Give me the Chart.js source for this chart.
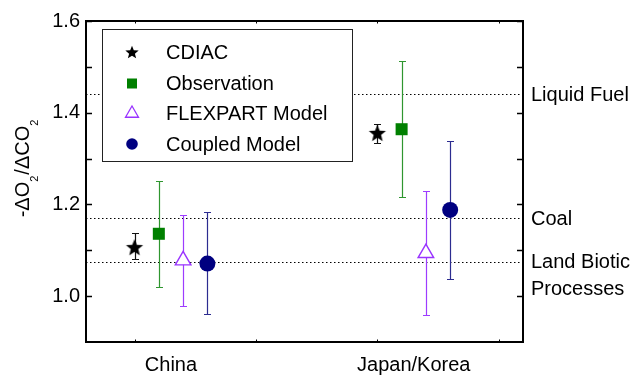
<!DOCTYPE html>
<html><head><meta charset="utf-8">
<script src="https://cdn.jsdelivr.net/npm/chart.js@4"></script>
<style>html,body{margin:0;padding:0;background:#fff}</style>
</head><body>
<canvas id="c" width="640" height="376" style="width:640px;height:376px;display:block"></canvas>
<script>
// ---------- data ----------
const categories = ['China', 'Japan/Korea'];
const seriesNames = ['CDIAC', 'Observation', 'FLEXPART Model', 'Coupled Model'];

const cdiacValues = [1.107, 1.356];
const cdiacLow    = [1.080, 1.335];
const cdiacHigh   = [1.138, 1.375];

const obsValues = [1.136, 1.364];
const obsLow    = [1.021, 1.217];
const obsHigh   = [1.251, 1.512];

const flexValues = [1.078, 1.094];
const flexLow    = [0.979, 0.958];
const flexHigh   = [1.176, 1.229];

const coupledValues = [1.071, 1.188];
const coupledLow    = [0.960, 1.037];
const coupledHigh   = [1.183, 1.338];

const refValues = [1.44, 1.17, 1.075];
const refLabels = [['Liquid Fuel'], ['Coal'], ['Land Biotic', 'Processes']];

const yMajorTicks = [1.0, 1.2, 1.4, 1.6];
const yMinorTicks = [1.1, 1.3, 1.5];
const yTickLabels = ['1.0', '1.2', '1.4', '1.6'];
const xFrameTicks = [2, 7, 12, 17];

// ---------- styling / layout ----------
const FONT = "'Liberation Sans', Arial, Helvetica, sans-serif";
const catCenters = [3.5, 13.5];
const offsets = [-1.5, -0.5, 0.5, 1.5];

function makeStar(outer, color) {
  const s = Math.ceil(outer * 2 + 2);
  const cv = document.createElement('canvas');
  cv.width = s; cv.height = s;
  const g = cv.getContext('2d');
  const inner = outer * 0.44;
  g.beginPath();
  for (let i = 0; i < 10; i++) {
    const r = i % 2 === 0 ? outer : inner;
    const a = -Math.PI / 2 + i * Math.PI / 5;
    const px = s / 2 + r * Math.cos(a), py = s / 2 + r * Math.sin(a) + outer * 0.1;
    if (i === 0) g.moveTo(px, py); else g.lineTo(px, py);
  }
  g.closePath();
  g.fillStyle = color; g.fill();
  return cv;
}
const starBig = makeStar(9, '#000');
const starSmall = makeStar(7, '#000');

const seriesDefs = [
  { vals: cdiacValues, low: cdiacLow, high: cdiacHigh, style: starBig, fill: '#000', border: '#000', err: '#111', r: 9, bw: 0 },
  { vals: obsValues, low: obsLow, high: obsHigh, style: 'rect', fill: '#008000', border: '#008000', err: '#2f962f', r: 8.5, bw: 0 },
  { vals: flexValues, low: flexLow, high: flexHigh, style: 'triangle', fill: '#ffffff', border: '#9933ff', err: '#9d3cff', r: 9, bw: 1.4 },
  { vals: coupledValues, low: coupledLow, high: coupledHigh, style: 'circle', fill: '#000080', border: '#000080', err: '#2c2c90', r: 8, bw: 0 }
];

const datasets = seriesDefs.map((s, si) => ({
  label: seriesNames[si],
  data: s.vals.map((v, i) => ({ x: catCenters[i] + offsets[si], y: v })),
  pointStyle: s.style,
  pointRadius: s.r,
  pointHoverRadius: s.r,
  pointBackgroundColor: s.fill,
  pointBorderColor: s.border,
  pointBorderWidth: s.bw,
  showLine: false
}));

const decor = {
  id: 'decor',
  beforeDatasetsDraw(chart) {
    const { ctx, chartArea: a, scales: { x, y } } = chart;
    ctx.save();
    ctx.strokeStyle = '#000';
    ctx.lineWidth = 1;
    ctx.setLineDash([1.5, 2.5]);
    refValues.forEach(v => {
      const py = Math.round(y.getPixelForValue(v)) + 0.5;
      ctx.beginPath(); ctx.moveTo(a.left, py); ctx.lineTo(a.right, py); ctx.stroke();
    });
    ctx.setLineDash([]);
    seriesDefs.forEach((s, si) => {
      ctx.strokeStyle = s.err;
      ctx.lineWidth = 1.2;
      chart.data.datasets[si].data.forEach((p, i) => {
        const px = Math.round(x.getPixelForValue(p.x)) + 0.5;
        const y1 = Math.round(y.getPixelForValue(s.low[i])) + 0.5;
        const y2 = Math.round(y.getPixelForValue(s.high[i])) + 0.5;
        ctx.beginPath();
        ctx.moveTo(px, y1); ctx.lineTo(px, y2);
        ctx.moveTo(px - 3.5, y1); ctx.lineTo(px + 3.5, y1);
        ctx.moveTo(px - 3.5, y2); ctx.lineTo(px + 3.5, y2);
        ctx.stroke();
      });
    });
    ctx.restore();
  },
  afterDraw(chart) {
    const { ctx, chartArea: a, scales: { x, y } } = chart;
    ctx.save();
    ctx.strokeStyle = '#000';
    ctx.lineWidth = 1.5;
    [...yMajorTicks, ...yMinorTicks].forEach(v => {
      const py = Math.round(y.getPixelForValue(v)) + 0.5;
      ctx.beginPath();
      ctx.moveTo(a.left, py); ctx.lineTo(a.left + 6, py);
      ctx.moveTo(a.right, py); ctx.lineTo(a.right - 6, py);
      ctx.stroke();
    });
    ctx.lineWidth = 1;
    xFrameTicks.forEach(v => {
      const px = Math.round(x.getPixelForValue(v)) + 0.5;
      ctx.beginPath();
      ctx.moveTo(px, a.bottom); ctx.lineTo(px, a.bottom - 2.5);
      ctx.moveTo(px, a.top); ctx.lineTo(px, a.top + 2.5);
      ctx.stroke();
    });

    // legend box
    const L = { x: 102, y: 29, w: 250, h: 132 };
    ctx.fillStyle = '#fff';
    ctx.fillRect(L.x, L.y, L.w, L.h);
    ctx.strokeStyle = '#222';
    ctx.lineWidth = 1;
    ctx.strokeRect(L.x + 0.5, L.y + 0.5, L.w, L.h);
    const rowY = [52, 83.5, 113.5, 144];
    ctx.font = '20px ' + FONT;
    ctx.textBaseline = 'middle';
    ctx.textAlign = 'left';
    chart.data.datasets.forEach((ds, si) => {
      const s = seriesDefs[si];
      const cx = 132, cy = rowY[si];
      ctx.fillStyle = s.fill; ctx.strokeStyle = s.border;
      if (si === 0) {
        ctx.drawImage(starSmall, cx - starSmall.width / 2, cy - starSmall.height / 2);
      } else if (s.style === 'rect') {
        ctx.fillRect(cx - 5, cy - 5, 10, 10);
      } else if (s.style === 'triangle') {
        const r = 7.5;
        ctx.beginPath();
        ctx.moveTo(cx, cy - r);
        ctx.lineTo(cx + r * 0.866, cy + r * 0.5);
        ctx.lineTo(cx - r * 0.866, cy + r * 0.5);
        ctx.closePath();
        ctx.fillStyle = '#fff'; ctx.fill();
        ctx.lineWidth = 1.3; ctx.stroke();
      } else {
        ctx.beginPath(); ctx.arc(cx, cy, 5.8, 0, Math.PI * 2); ctx.fill();
      }
      ctx.fillStyle = '#000';
      ctx.fillText(ds.label, 166, cy + 1);
    });

    // right-side reference labels
    ctx.fillStyle = '#000';
    ctx.font = '20px ' + FONT;
    ctx.textBaseline = 'middle';
    refValues.forEach((v, i) => {
      const py = y.getPixelForValue(v);
      refLabels[i].forEach((t, k) => ctx.fillText(t, a.right + 8, py + 1 + k * 27));
    });

    // y axis title with subscripts
    ctx.translate(29, 168);
    ctx.rotate(-Math.PI / 2);
    const parts = [['-\u0394O', 0], ['2', 1], ['/\u0394CO', 0], ['2', 1]];
    const big = '20px ' + FONT, small = '11px ' + FONT;
    let total = 0;
    parts.forEach(p => { ctx.font = p[1] ? small : big; total += ctx.measureText(p[0]).width + (p[1] ? 1 : 0); });
    let cx = -total / 2;
    ctx.textAlign = 'left';
    ctx.textBaseline = 'alphabetic';
    parts.forEach(p => {
      ctx.font = p[1] ? small : big;
      ctx.fillText(p[0], cx, p[1] ? 9 : 0);
      cx += ctx.measureText(p[0]).width + (p[1] ? 1 : 0);
    });
    ctx.restore();
  }
};

const borderOpt = { display: true, color: '#000', width: 2 };

new Chart(document.getElementById('c'), {
  type: 'scatter',
  data: { datasets },
  options: {
    responsive: false,
    animation: false,
    devicePixelRatio: 1,
    layout: { padding: 0 },
    plugins: { legend: { display: false }, tooltip: { enabled: false } },
    scales: {
      x: {
        type: 'linear', position: 'bottom', min: 0, max: 18,
        grid: { display: false, drawTicks: false },
        border: borderOpt,
        afterBuildTicks: s => { s.ticks = catCenters.map(v => ({ value: v })); },
        ticks: {
          autoSkip: false, padding: 11, color: '#000',
          font: { family: FONT, size: 20 },
          callback: (v) => categories[catCenters.indexOf(v)] ?? ''
        },
        afterFit: s => { s.height = 34; }
      },
      xTop: {
        type: 'linear', position: 'top', min: 0, max: 18,
        grid: { display: false, drawTicks: false },
        border: borderOpt,
        ticks: { display: false },
        afterFit: s => { s.height = 21; }
      },
      y: {
        type: 'linear', position: 'left', min: 0.9, max: 1.6,
        grid: { display: false, drawTicks: false },
        border: borderOpt,
        afterBuildTicks: s => { s.ticks = yMajorTicks.map(v => ({ value: v })); },
        ticks: {
          autoSkip: false, padding: 6, color: '#000',
          font: { family: FONT, size: 20 },
          callback: (v) => yTickLabels[yMajorTicks.findIndex(t => Math.abs(t - v) < 1e-9)] ?? ''
        },
        afterFit: s => { s.width = 86; }
      },
      yRight: {
        type: 'linear', position: 'right', min: 0.9, max: 1.6,
        grid: { display: false, drawTicks: false },
        border: borderOpt,
        ticks: { display: false },
        afterFit: s => { s.width = 117; }
      }
    }
  },
  plugins: [decor]
});
</script>
</body></html>
